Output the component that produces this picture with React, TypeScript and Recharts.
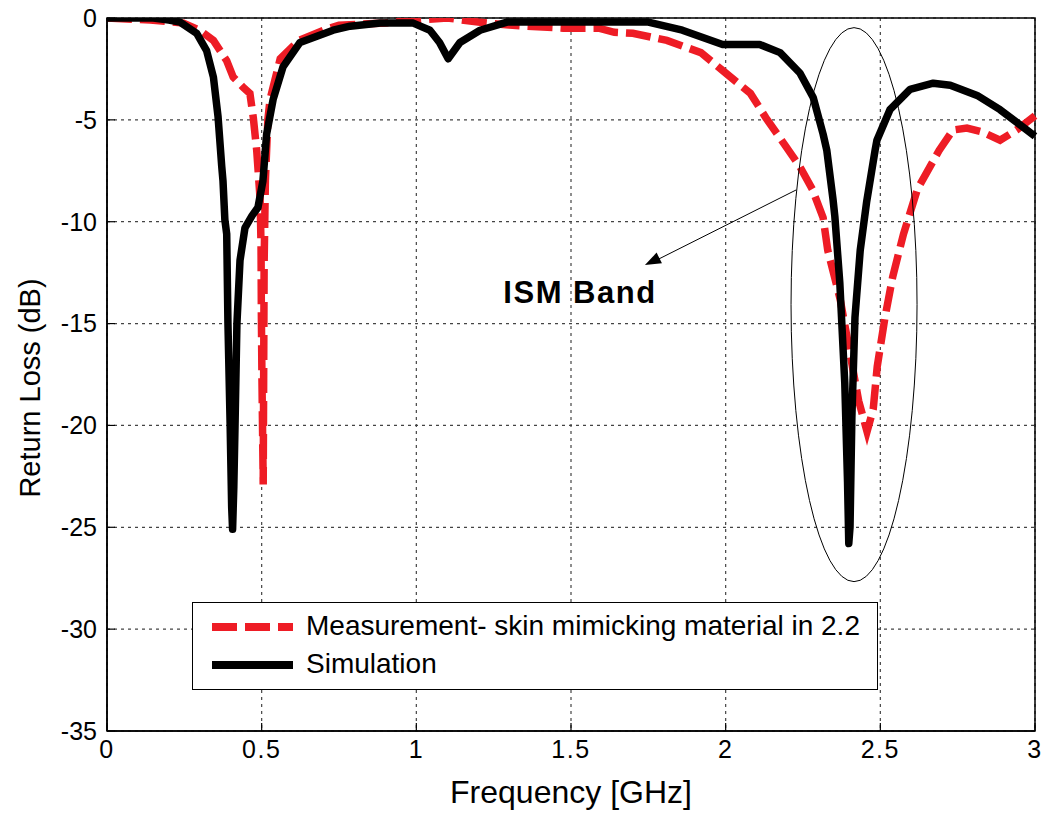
import React from 'react';
import {
  LineChart,
  Line,
  XAxis,
  YAxis,
  CartesianGrid,
  ReferenceArea,
  ReferenceDot,
  ReferenceLine,
} from 'recharts';

// Simulation (black solid)
const simFreq = [
  0, 0.15, 0.2, 0.236, 0.29, 0.322, 0.344, 0.359, 0.371, 0.375, 0.381, 0.387, 0.391, 0.398, 0.403, 0.406,
  0.41, 0.414, 0.42, 0.43, 0.446, 0.469, 0.488, 0.504, 0.516, 0.537, 0.569, 0.624, 0.731, 0.786, 0.883,
  0.99, 1.044, 1.075, 1.103, 1.141, 1.206, 1.293, 1.5, 1.75, 1.86, 1.99, 2.11, 2.176, 2.24, 2.283, 2.315,
  2.327, 2.347, 2.353, 2.369, 2.385, 2.394, 2.398, 2.402, 2.408, 2.418, 2.435, 2.456, 2.483, 2.489, 2.531,
  2.596, 2.671, 2.726, 2.813, 2.887, 3.0,
];
const simLoss = [
  0, 0, -0.1, -0.2, -0.75, -1.6, -2.9, -4.85, -7.3, -8, -9.9, -10.6, -15, -19.9, -24, -25.1,
  -23, -19.9, -15, -11.9, -10.3, -9.7, -9.3, -8, -5.7, -4, -2.4, -1.2, -0.6, -0.4, -0.25,
  -0.25, -0.6, -1.2, -2.0, -1.2, -0.6, -0.2, -0.2, -0.2, -0.6, -1.3, -1.3, -1.7, -2.7, -3.9, -5.7,
  -6.5, -8.9, -9.75, -13, -17.9, -22.8, -25.8, -25, -19.6, -14.7, -11.4, -9.0, -6.5, -6.0, -4.5,
  -3.5, -3.2, -3.3, -3.8, -4.5, -5.8,
];

// Measurement (red dashed)
const measFreq = [
  0, 0.14, 0.247, 0.3, 0.344, 0.387, 0.408, 0.44, 0.462, 0.473, 0.484, 0.495, 0.498, 0.499, 0.501, 0.505,
  0.508, 0.512, 0.52, 0.527, 0.56, 0.62, 0.7, 0.75, 0.9, 1.0, 1.1, 1.2, 1.3, 1.475, 1.59, 1.64, 1.7,
  1.81, 1.92, 2.0, 2.08, 2.13, 2.19, 2.24, 2.28, 2.315, 2.33, 2.37, 2.4, 2.43, 2.457, 2.477, 2.49, 2.515,
  2.54, 2.575, 2.62, 2.69, 2.735, 2.78, 2.83, 2.887, 2.94, 3.0,
];
const measLoss = [
  0, -0.1, -0.25, -0.6, -1.1, -2.1, -2.9, -3.4, -3.7, -4.9, -6.5, -8.9, -11.2, -14.5, -17.8, -22.9,
  -12, -8, -5, -4, -2, -1.1, -0.6, -0.35, -0.25, -0.1, 0, -0.2, -0.35, -0.5, -0.5, -0.7, -0.75,
  -1.1, -1.7, -2.7, -3.7, -4.9, -6.2, -7.3, -8.4, -9.8, -11.4, -13.8, -16.3, -18.8, -20.3, -19.2, -17.1, -14.7,
  -12.7, -10.6, -8.4, -6.5, -5.5, -5.4, -5.6, -6.0, -5.5, -4.8,
];

const xTicks = [0, 0.5, 1, 1.5, 2, 2.5, 3];
const yTicks = [0, -5, -10, -15, -20, -25, -30, -35];

const simData = simFreq.map((f, i) => ({ f, v: simLoss[i] }));
const measData = measFreq.map((f, i) => ({ f, v: measLoss[i] }));

const FONT = "'Liberation Sans', Arial, sans-serif";

const LegendBox = () => (
  <div
    style={{
      position: 'absolute',
      left: 192,
      top: 602,
      width: 686,
      height: 88,
      border: '1.5px solid #000',
      background: '#fff',
      fontFamily: FONT,
      fontSize: 28,
      color: '#000',
      boxSizing: 'border-box',
    }}
  >
    <svg width={100} height={86} style={{ position: 'absolute', left: 0, top: 0 }}>
      <line x1={19} y1={24} x2={104} y2={24} stroke="#ee1c25" strokeWidth={8} strokeDasharray="25 8" />
      <line x1={19} y1={62} x2={104} y2={62} stroke="#000" strokeWidth={8} />
    </svg>
    <div style={{ position: 'absolute', left: 113, top: 6, lineHeight: '34px' }}>
      Measurement- skin mimicking material in 2.2
    </div>
    <div style={{ position: 'absolute', left: 113, top: 44, lineHeight: '34px' }}>Simulation</div>
  </div>
);

const Ellipse = (props: any) => (
  <ellipse cx={props.cx} cy={props.cy} rx={63} ry={277} fill="none" stroke="#000" strokeWidth={1} />
);

const ArrowHead = (props: any) => {
  const { cx, cy } = props;
  const ang = Math.atan2(75, -151);
  const len = 16;
  const w = 6;
  const bx = cx - len * Math.cos(ang);
  const by = cy - len * Math.sin(ang);
  const px = -Math.sin(ang) * w;
  const py = Math.cos(ang) * w;
  return <polygon points={`${cx},${cy} ${bx + px},${by + py} ${bx - px},${by - py}`} fill="#000" />;
};

const BandText = (props: any) => (
  <text
    x={props.cx}
    y={props.cy}
    textAnchor="middle"
    dominantBaseline="middle"
    fontFamily={FONT}
    fontWeight="bold"
    fontSize={31}
    letterSpacing={1.5}
    fill="#000"
  >
    ISM Band
  </text>
);

const YTitle = () => (
  <text
    x={40}
    y={388}
    transform="rotate(-90 40 388)"
    textAnchor="middle"
    fontFamily={FONT}
    fontSize={29}
    fill="#000"
  >
    Return Loss (dB)
  </text>
);

export default function App() {
  return (
    <div style={{ position: 'absolute', left: 0, top: 0, width: 1047, height: 813, background: '#fff' }}>
      <LineChart width={1047} height={813} margin={{ top: 18, right: 12, left: 0, bottom: 0 }}>
        <CartesianGrid stroke="#444" strokeDasharray="3 4" strokeWidth={1.2} />
        <XAxis
          type="number"
          dataKey="f"
          domain={[0, 3]}
          ticks={xTicks}
          height={82}
          tickSize={-8}
          tickLine={{ stroke: '#000', strokeWidth: 1.2 }}
          axisLine={{ stroke: '#000', strokeWidth: 1.5 }}
          tick={{ fill: '#000', fontSize: 25, fontFamily: FONT, letterSpacing: 1.5 }}
          tickMargin={17}
          label={{
            value: 'Frequency [GHz]',
            position: 'insideBottom',
            offset: 10,
            fill: '#000',
            fontSize: 32,
            fontFamily: FONT,
          }}
        />
        <YAxis
          type="number"
          domain={[-35, 0]}
          ticks={yTicks}
          width={107}
          tickSize={-8}
          tickLine={{ stroke: '#000', strokeWidth: 1.2 }}
          allowDataOverflow
          axisLine={{ stroke: '#000', strokeWidth: 1.5 }}
          tick={{ fill: '#000', fontSize: 25, fontFamily: FONT }}
          tickMargin={18}
          label={{ content: () => <YTitle /> }}
        />
        <ReferenceArea x1={0} x2={3} y1={-35} y2={0} fill="none" stroke="#000" strokeWidth={1.5} ifOverflow="visible" />
        <ReferenceDot x={2.415} y={-14.07} r={1} shape={Ellipse} ifOverflow="visible" />
        <ReferenceLine
          segment={[{ x: 2.228, y: -8.44 }, { x: 1.755, y: -12.05 }]}
          stroke="#000"
          strokeWidth={1}
          ifOverflow="visible"
        />
        <ReferenceDot x={1.739} y={-12.13} r={1} shape={ArrowHead} ifOverflow="visible" />
        <ReferenceDot x={1.529} y={-13.6} r={1} shape={BandText} ifOverflow="visible" />
        <Line
          data={measData}
          dataKey="v"
          type="linear"
          stroke="#ee1c25"
          strokeWidth={7.5}
          strokeDasharray="25 8"
          dot={false}
          isAnimationActive={false}
        />
        <Line
          data={simData}
          dataKey="v"
          type="linear"
          stroke="#000"
          strokeWidth={7.5}
          strokeLinejoin="round"
          dot={false}
          isAnimationActive={false}
        />
      </LineChart>
      <LegendBox />
    </div>
  );
}
